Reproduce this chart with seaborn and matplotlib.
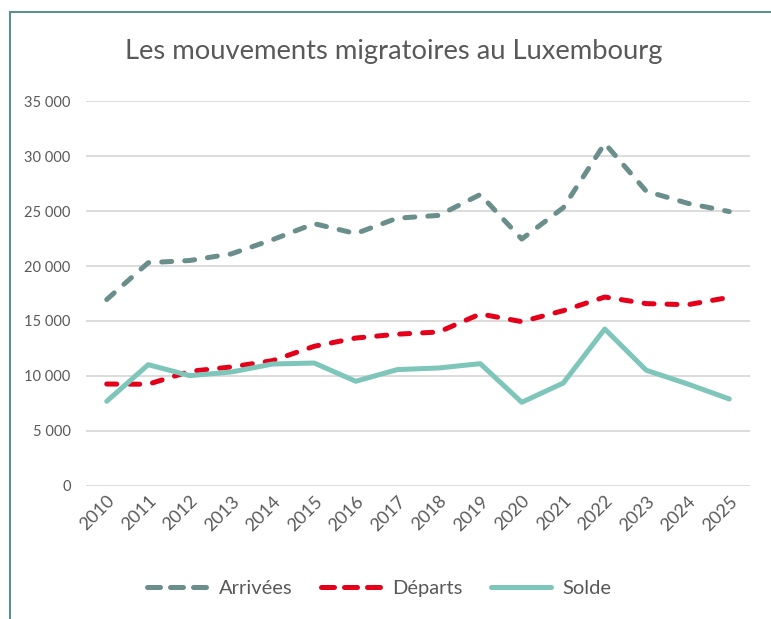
import matplotlib
matplotlib.use("Agg")
import matplotlib.pyplot as plt
import seaborn as sns
import pandas as pd
from matplotlib.ticker import FuncFormatter
from matplotlib.lines import Line2D

years = list(range(2010, 2026))
arrivees = [16950, 20300, 20500, 21100, 22400, 23850, 22950, 24350, 24600, 26500,
            22450, 25300, 31150, 26800, 25700, 24950]
departs = [9270, 9250, 10420, 10820, 11400, 12700, 13450, 13800, 14000, 15640,
           14940, 15940, 17180, 16580, 16480, 17150]
solde = [7700, 11030, 10030, 10360, 11090, 11180, 9520, 10580, 10730, 11120,
         7610, 9360, 14270, 10520, 9270, 7910]

series = ["Arrivées", "Départs", "Solde"]
colors = {"Arrivées": "#6A8E8B", "Départs": "#E4001B", "Solde": "#7DC6B9"}

df = pd.DataFrame({"Année": years * 3,
                   "Valeur": arrivees + departs + solde,
                   "Série": [s for s in series for _ in years]})

sns.set_theme(style="white")
plt.rcParams["font.family"] = ["Lato", "DejaVu Sans"]
txt = "#595959"
lw = 3.6

fig = plt.figure(figsize=(7.71, 6.19), dpi=100)
ax = fig.add_axes([0.1115, 0.2149, 0.8613, 0.6219])

sns.lineplot(data=df, x="Année", y="Valeur", hue="Série", style="Série",
             palette=colors, dashes={"Arrivées": (2, 2.6), "Départs": (2, 2.6), "Solde": ""},
             linewidth=lw, ax=ax, legend=False)
for line in ax.lines:
    line.set_dash_capstyle("round")
    line.set_solid_capstyle("round")
    line.set_solid_joinstyle("round")
    line.set_dash_joinstyle("round")

ax.set_xlim(2009.5, 2025.5)
ax.set_ylim(0, 35000)
ax.set_yticks(range(0, 35001, 5000))
ax.yaxis.set_major_formatter(FuncFormatter(lambda v, p: f"{int(v):,}".replace(",", " ")))
ax.set_xticks(years)
ax.set_xticklabels([str(y) for y in years], rotation=45, ha="right",
                   rotation_mode="anchor", fontsize=13, color=txt)
ax.tick_params(axis="y", labelsize=10.5, colors=txt, length=0, pad=11)
ax.tick_params(axis="x", length=0, pad=5)
ax.grid(axis="y", color="#D9D9D9", linewidth=1.3)
ax.set_axisbelow(True)
for s in ax.spines.values():
    s.set_visible(False)
ax.set_xlabel("")
ax.set_ylabel("")

fig.text(0.511, 0.916, "Les mouvements migratoires au Luxembourg", ha="center",
         va="center", fontsize=19.7, color=txt)

handles = []
for s in series:
    ls = "-" if s == "Solde" else (0, (2.6, 2))
    h = Line2D([], [], color=colors[s], linewidth=lw, linestyle=ls,
               dash_capstyle="round", solid_capstyle="round")
    handles.append(h)
fig.legend(handles, series, loc="center", bbox_to_anchor=(0.492, 0.05), ncol=3,
           frameon=False, fontsize=14.5, handlelength=3.0, handletextpad=0.55,
           columnspacing=1.4, labelcolor=txt)

# cadre
frame_col = "#5E8F8A"
fig.add_artist(Line2D([0.0135, 0.0135], [0, 0.981], color=frame_col, linewidth=1.5))
fig.add_artist(Line2D([0.0135, 1.0], [0.981, 0.981], color=frame_col, linewidth=1.5))

fig.savefig("out.png", dpi=100, facecolor="white")
